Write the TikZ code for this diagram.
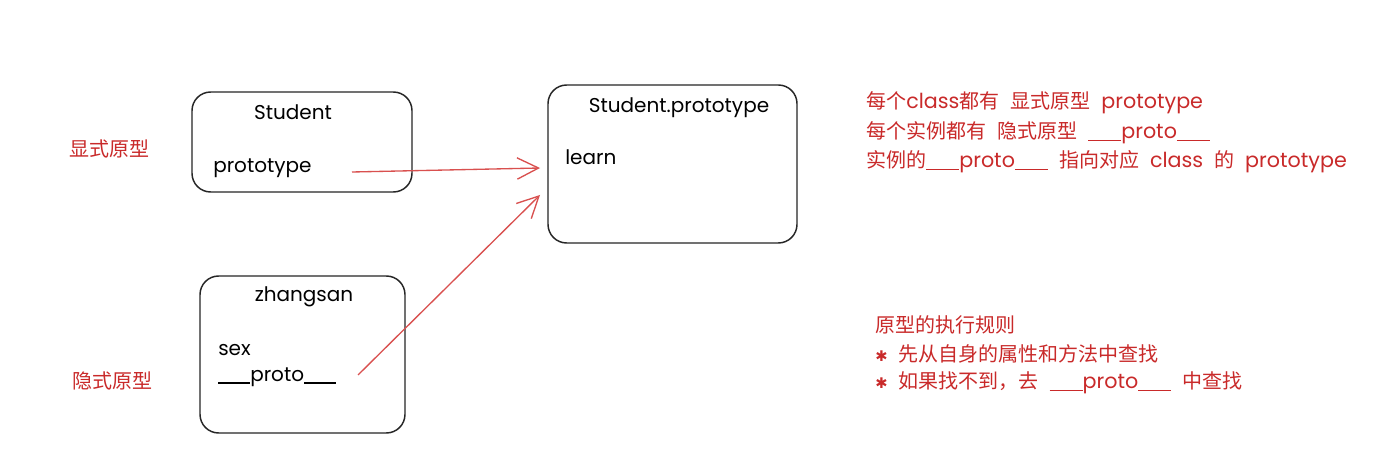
\documentclass[tikz,border=0pt]{standalone}
\usepackage{fontspec}
\setmainfont{Poppins}
\newfontfamily\cjk{Noto Sans CJK SC}
\newfontfamily\lat{Poppins}
\newfontfamily\dejavu{DejaVu Sans}
\usetikzlibrary{arrows.meta}
\definecolor{redtxt}{HTML}{C92A2A}
\definecolor{redline}{HTML}{D9504F}
\newcommand{\us}{\rule[-0.12em]{0.8em}{0.07em}}
\newcommand{\dproto}{\us\us proto\us\us}
\newcommand{\gap}{\hspace{0.55em}}
\newcommand{\latn}{\lat\fontsize{15.5}{18}\selectfont}
\begin{document}
\begin{tikzpicture}[x=0.75pt,y=-0.75pt,
  box/.style={draw=black!85,line width=1.1pt,rounded corners=14pt,inner sep=0pt},
  blk/.style={font=\fontsize{15}{18}\selectfont,text=black,inner sep=0pt},
  lbl/.style={font=\cjk\fontsize{15}{18}\selectfont,text=redtxt,inner sep=0pt},
  note/.style={font=\cjk\fontsize{15}{18}\selectfont,text=redtxt,inner sep=0pt,anchor=west},
  link/.style={draw=redline,line width=1pt,-{Straight Barb[length=16pt,width=16pt,line width=1pt]}}]
\useasboundingbox[fill=white] (0,0) rectangle (1393,463);
% boxes
\node[box,minimum width=165pt,minimum height=75pt] (student) at (302,142) {};
\node[box,minimum width=153.75pt,minimum height=117.75pt] (zhang) at (302.5,354.5) {};
\node[box,minimum width=186.75pt,minimum height=118.5pt] (sp) at (672.5,164) {};
% box texts
\node[blk] (tstudent) at (293,112) {Student};
\node[blk,anchor=west] (tproto) at (213,168) {prototype};
\node[blk] (tsp) at (679,108) {Student.prototype};
\node[blk,anchor=west] (tlearn) at (565,157) {learn};
\node[blk] (tzhang) at (304,297) {zhangsan};
\node[blk,anchor=west] (tsex) at (218,350) {sex};
\node[blk,anchor=west] (t__proto) at (218,377) {\dproto};
% side labels
\node[lbl] (lexp) at (109,149) {显式原型};
\node[lbl] (limp) at (112,381) {隐式原型};
% connectors
\coordinate (a1s) at (352,172);
\coordinate (a1e) at (540,168);
\coordinate (a2s) at (358,375);
\coordinate (a2e) at (540,195);
\draw[link] (a1s) -- (a1e);
\draw[link] (a2s) -- (a2e);
% notes
\node[note] (n1) at (866,103) {每个{\latn class}都有\gap 显式原型\gap {\latn prototype}};
\node[note] (n2) at (866,133) {每个实例都有\gap 隐式原型\gap {\latn\dproto}};
\node[note] (n3) at (866,162) {实例的{\latn\dproto}\gap 指向对应\gap {\latn class}\gap 的\gap {\latn prototype}};
\node[note] (r1) at (875,325) {原型的执行规则};
\node[note] (r2) at (875,354) {{\dejavu\fontsize{11}{13}\selectfont ✱}\gap 先从自身的属性和方法中查找};
\node[note] (r3) at (875,383) {{\dejavu\fontsize{11}{13}\selectfont ✱}\gap 如果找不到，去\gap {\latn\dproto}\gap 中查找};
\end{tikzpicture}
\end{document}
